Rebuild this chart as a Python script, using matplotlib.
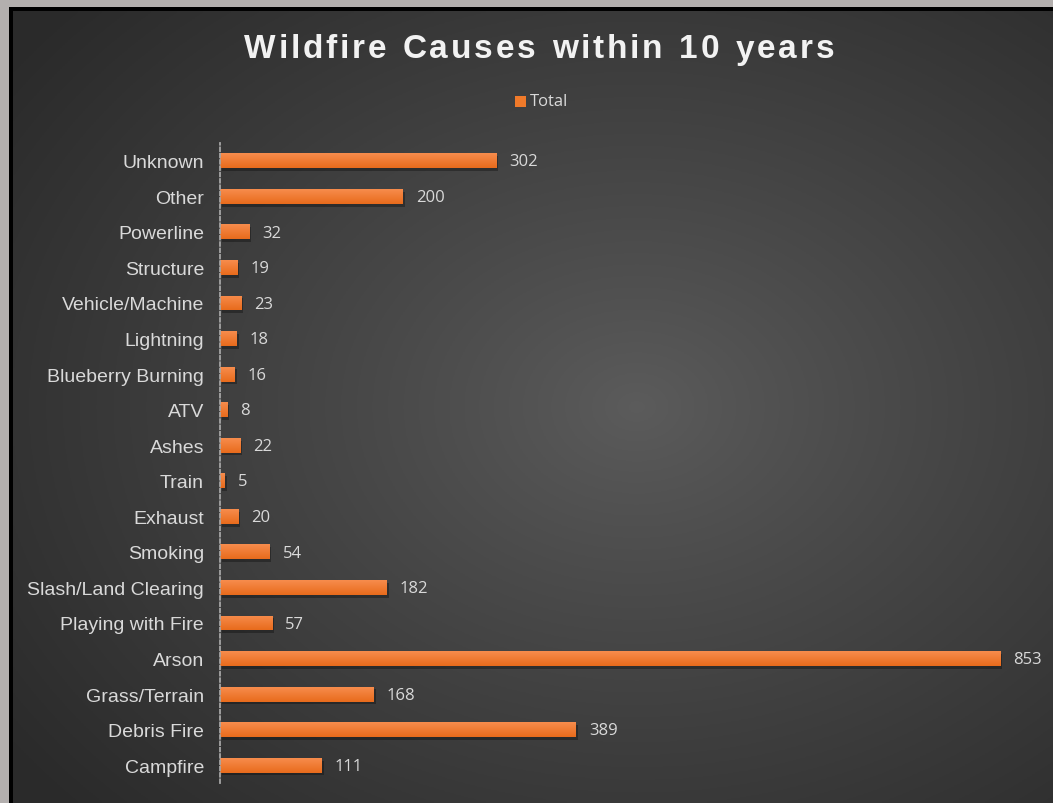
import numpy as np
import matplotlib
matplotlib.use("Agg")
import matplotlib.pyplot as plt
from matplotlib import patheffects as pe
from matplotlib.patches import Rectangle

categories = ["Campfire", "Debris Fire", "Grass/Terrain", "Arson", "Playing with Fire",
              "Slash/Land Clearing", "Smoking", "Exhaust", "Train", "Ashes", "ATV",
              "Blueberry Burning", "Lightning", "Vehicle/Machine", "Structure",
              "Powerline", "Other", "Unknown"]
totals = [111, 389, 168, 853, 57, 182, 54, 20, 5, 22, 8, 16, 18, 23, 19, 32, 200, 302]
series_name = "Total"
title = "Wildfire Causes within 10 years"

W, H = 1053, 804
fig = plt.figure(figsize=(W / 100, H / 100), dpi=100)
fig.patch.set_facecolor("#b3afae")

# black frame
fig.patches.append(Rectangle((9 / W, 0), 1, (H - 8) / H, transform=fig.transFigure,
                             facecolor="black", edgecolor="none", zorder=0))
# radial gradient background
bg = fig.add_axes([13 / W, 0, (W - 13) / W, (H - 12) / H], zorder=0.5)
bg.set_axis_off()
nx, ny = 400, 300
xx, yy = np.meshgrid(np.linspace(0, 1, nx), np.linspace(0, 1, ny))
cx, cy = 0.6, 0.5
r = np.sqrt(((xx - cx) / 0.75) ** 2 + ((yy - cy) / 0.75) ** 2)
r = np.clip(r, 0, 1)
c0, c1 = 0.36, 0.165
val = c0 + (c1 - c0) * r ** 0.9
img = np.dstack([val, val, val])
bg.imshow(img, extent=[0, 1, 0, 1], aspect="auto", origin="lower")
bg.set_xlim(0, 1)
bg.set_ylim(0, 1)

ax = fig.add_axes([220 / W, 20 / H, 823 / W, 640 / H], zorder=1)
ax.set_facecolor("none")
y = np.arange(len(categories))
bars = ax.barh(y, totals, height=0.42, color="#f07a2a", zorder=3)
grad = np.linspace(0, 1, 50).reshape(-1, 1)
top = np.array([0.97, 0.55, 0.30])
bot = np.array([0.91, 0.42, 0.11])
gimg = top[None, None, :] * (1 - grad[:, :, None]) + bot[None, None, :] * grad[:, :, None]
for b in bars:
    b.set_path_effects([pe.withSimplePatchShadow(offset=(1.5, -2), shadow_rgbFace="black",
                                                 alpha=0.3)])
    x0, y0, w, h = b.get_x(), b.get_y(), b.get_width(), b.get_height()
    im = ax.imshow(gimg, extent=[x0, x0 + w, y0, y0 + h], aspect="auto",
                   origin="upper", zorder=4)
    im.set_clip_path(b)

for yi, v in zip(y, totals):
    ax.annotate(f"{v}", (v, yi), xytext=(9.5, -0.5), textcoords="offset points",
                va="center", ha="left", fontsize=12, color="#d9d9d9",
                family="Open Sans", zorder=5)

ax.set_xlim(0, 900)
ax.set_ylim(-0.5, len(categories) - 0.5)
ax.set_yticks(y)
ax.set_yticklabels(categories, fontsize=14, color="#d9d9d9", family="Liberation Sans")
ax.tick_params(axis="y", length=0, pad=11.5)
ax.set_xticks([])
for s in ["top", "right", "bottom"]:
    ax.spines[s].set_visible(False)
ax.spines["left"].set_color("#a6a6a6")
ax.spines["left"].set_linewidth(1.3)
ax.spines["left"].set_linestyle((0, (2, 1.5)))
ax.spines["left"].set_zorder(6)

# title with letter spacing
renderer = fig.canvas.get_renderer()
tkw = dict(fontsize=24, fontweight="bold", color="#f2f2f2", family="Liberation Sans")
target_w = 590.0
widths = []
for ch in title:
    t = fig.text(0, 0, ch if ch != " " else "n", **tkw)
    widths.append(t.get_window_extent(renderer).width * (0.55 if ch == " " else 1.0))
    t.remove()
spacing = (target_w - sum(widths)) / (len(title) - 1)
xpos = 539 - target_w / 2
for ch, wch in zip(title, widths):
    if ch != " ":
        fig.text(xpos / W, 1 - 50 / H, ch, ha="left", va="center", **tkw)
    xpos += wch + spacing

# legend
fig.patches.append(Rectangle((515 / W, 1 - 108 / H), 11 / W, 11 / H, transform=fig.transFigure,
                             facecolor="#f07a2a", edgecolor="none", zorder=3))
fig.text(530 / W, 1 - 102 / H, series_name, ha="left", va="center", fontsize=12,
         color="#d9d9d9", family="Open Sans")

fig.savefig("out.png", dpi=100, facecolor=fig.get_facecolor())
